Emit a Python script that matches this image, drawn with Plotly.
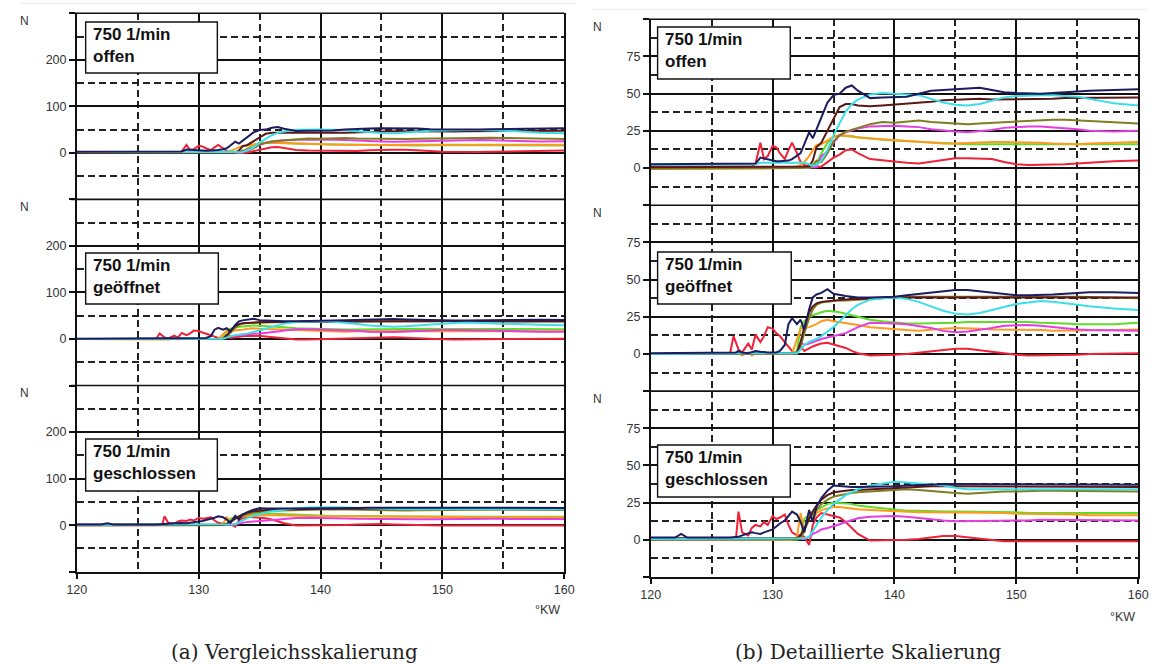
import plotly.graph_objects as go

W, H = 1157, 664

# ---------------- data ----------------
X = [120, 122, 122.5, 123, 126.5, 126.8, 127, 127.2, 127.5, 128,
     128.3, 128.6, 129, 129.3, 129.6, 130, 130.3, 130.6, 131, 131.3,
     131.6, 132, 132.3, 132.6, 133, 133.3, 133.6, 134, 134.5, 135,
     135.5, 136, 136.5, 137, 138, 139, 140, 141, 142, 143,
     144, 145, 146, 147, 148, 149, 150, 151, 152, 153,
     154, 155, 156, 158, 160]

# condition "offen"
navy_o = [2.5,2.5,2.5,2.5,2.5,2.5,2.5,2.5,2.5,2.5, 2.5,3,7,6.5,5.5,5,4.5,4.5,5,5,
          6,8,10,16,24,20,26,35,44,49, 50,54,55.5,52,47,47.5,47.5,48,50,52,
          52.5,53,53,54,52.5,51,50.5,50,50,50.5, 51,51.5,52,52.5,53]
brown_o = [0.5,0.5,0.5,0.5,0.5,0.5,0.5,0.5,0.5,0.5, 0.5,0.5,0.5,0.5,0.5,0.5,0.5,0.5,0.5,0.5,
           0.5,0.5,0.5,0.8,1,5,14,17,25,33, 41,43,43,42,41.5,42,42.5,43,43.5,44.5,
           45.5,46,46.5,46.5,46,46,46,46,46.5,46.5, 47,47,47.5,47.5,47.5]
cyan_o = [2,2,2,2,2,2,2,2,2,2, 2,2.5,3.5,3.5,3.5,3.5,3.5,3.5,3.5,3.5,
          3.5,3.5,3.5,3.5,2.5,1.5,2,5,12,22, 30,38,43,46,49.5,50.5,50,49.5,49,46.5,
          44,42.5,42,43,45.5,47.5,48.5,49,49,49, 48.5,48,46.5,43.5,42]
olive_o = [-0.5,-0.5,-0.5,-0.5,-0.5,-0.5,-0.5,-0.5,-0.5,-0.5, -0.5,-0.5,-0.5,-0.5,-0.5,-0.5,-0.5,-0.5,-0.5,-0.5,
           -0.3,0,0,0.3,0.5,2,5,4,10,18, 22,24.5,26,27,29.5,31,30.5,31.5,32,31,
           30.5,30,29.5,30,30.5,31,31.5,32,32,32.5, 32.5,32,31.5,30.5,30]
magenta_o = [0,0,0,0,0,0,0,0,0,0, 0,0,0,0,0,0,0,0,0,0,
             0,0,0,0,0,0,0.5,8,11,17, 22,24,25.5,26.5,28,28.5,28.5,28,27.5,26,
             25,24.5,24,24.5,25.5,27,27.5,28,28,27.5, 27,26,25,24.5,25]
orange_o = [-0.5,-0.5,-0.5,-0.5,-0.5,-0.5,-0.5,-0.5,-0.5,-0.5, -0.5,-0.5,-0.5,-0.5,-0.5,-0.5,-0.5,-0.5,-0.5,-0.3,
            0,1,2,4,8,12,15.5,16,18.5,21, 22,22,21.5,20.5,20,19,18.5,18,17.5,17,
            16.5,16.5,17,17.5,17.5,17.5,17.5,17,17,16.5, 16,16,16.5,17,17.5]
green_o = [0,0,0,0,0,0,0,0,0,0, 0,0,0,0,0,0,0,0,0,0,
           0,0,0,0,0,1,3,10,17,21, 22,21.5,21,20.5,20,19,18.5,18,17.5,17,
           16.5,16,16,16,16,16.5,16.5,16.5,16,16, 16,16,16,16,16]
red_o = [1,1,1,1,1,1,1,1,1,1, 1,3,17,6,8,15,14,10,6,12,
         17,10,4,2,1,0.5,0.5,1,4,7, 9,12,12.5,10,6,5,4.5,3.5,3,4,
         5.5,6.5,6.5,6.5,6,4,2.5,2,2,2, 2.5,3,3.5,4.5,5]

# condition "geöffnet"
navy_g = [0.5,0.5,0.5,0.5,0.5,0.5,1,2,1,0.5, 1,2,1.5,1,1,1,1,2,6,20,
          24,20,23,16,30,38,40,41,43.5,40.5, 39.5,39,38.5,38,38,38,38.5,39.5,40.5,41.5,
          42.5,43,43,42,41,40,39.5,39.5,39.5,40, 40.5,41,41.5,41.5,41]
brown_g = [0,0,0,0,0,0,0,0,0,0, 0,0,0,0,0,0,0,0,0,0,
           0,0.5,8,18,28,32,34,35,35.5,36, 36.5,36.5,37,37,37.5,37.5,38,38,38,38,
           38,38,38,38,38,38,38.5,38.5,38.5,38.5, 38.5,38.5,38.5,38.5,38]
olive_g = [0,0,0,0,0,0,0,0,0,0, 0,0,0,0,0,0,0,0,0,0,
           0,0.3,5,14,24,30,33,34.5,35,35.5, 36,36,36.3,36.5,37,37.5,38,38.5,38.5,38.5,
           38.5,38.5,38.5,38.5,38.5,38.5,39,39,39,38.8, 38.6,38.5,38.2,38,37.5]
cyan_g = [0,0,0,0,0,0,0,0,0,0, 0,0,0,0,0,0,0,0,0,0,
          0,0.5,3,6,8,9,10,12,15,18, 22,26,30,33,36.5,37.5,38,37,35,32,
          29,27,26.5,27.5,29.5,31.5,33.5,34.5,35.5,35, 34,33,32,30.5,29.5]
green_g = [0,0,0,0,0,0,0,0,0,0, 0,0,0,0,0,0,0,0,0,0,
           0,2,18,22,25,26,27,28,29,28.5, 28,27,26,25,23,22,21,20.5,20.5,20.5,
           21,21,21.5,21.5,22,22,21.5,21.5,21,21, 20.5,20,20,20,21]
orange_g = [0,0,0,0,0,0,0,0.5,-1,1, -1,0.5,0,0,0,0,0,0,0,0,
            0,10,17,17.5,18,19,20,22,23,22, 21.5,21,20,19.5,18,17.5,17,16,15.5,16.5,
            17,17.5,17,17,16.5,16.5,16,16,16,15.5, 15.5,16,16,16,16.5]
magenta_g = [0,0,0,0,0,0,0,0,0,0, 0,0,0,0,0,0,0,0,0,0,
             0,0.5,8,6,7,8,9,10,11,12, 13,14,16,18,21,21,20.5,20,19,17.5,
             15.5,14.5,15,16,17.5,19,19.5,19.5,19,18, 17,16.5,16,15.5,15.5]
red_g = [0,0,0,0,0,12,8,3,1,7, 3,13,8,12,18,17,14,12,8,5,
         2,0,5,2,4,5,6,7,7.5,6.5, 5.5,4,2,0.5,-1,-1,-0.5,0,1,2,
         3,3.5,3.5,2.5,1,0,-0.5,-1,-1,-0.5, -0.5,-0.5,0,0.5,0.5]

# condition "geschlossen"
navy_s = [1.5,1.5,4,1.5,1.5,1.5,1.5,2,3,4, 5,4.5,4,5,6,7,9,11,13,16,
          19,17,12,5,20,12,22,28,33,36.5, 36,35.5,35.5,35.5,35.5,35.5,36,36.5,37,37,
          37.5,37.5,37.5,37.5,37,37,37,37,37,37, 37,37,37,37,37]
brown_s = [1,1,1,1,1,1,1,1,1,1, 1,1,1,1,1,1,1,1,1,1,
           1,1,3,8,15,19,23,27,30,32, 32.5,33,33.5,33.5,34,34.5,35,35.5,36,36,
           36,36,36,36,36,36,36,36,36,36, 36,36,36,35.8,35.5]
cyan_s = [0.5,0.5,0.5,0.5,0.5,0.5,0.5,0.5,0.5,0.5, 0.5,0.5,0.5,0.5,0.5,0.5,0.5,0.5,0.5,0.5,
          0.5,0.5,0.5,1,2,6,10,15,20,24, 27,30,32,34,36.5,38,39,38.5,38,37,
          36.5,35,34,34,34,34.5,34.5,34.5,34.5,34.5, 34.5,34.5,34.5,34,34]
olive_s = [0,0,0,0,0,0,0,0,0,0, 0,0,0,0,0,0,0,0,0,0,
           0,0,0.5,6,14,17,20,24,27,29, 30,31,31.5,32,32.5,33,33.5,34,33.5,33,
           32,31.5,31,31.5,32,32.5,32.5,33,33,33, 33,33,33,32.5,32.5]
green_s = [0,0,0,0,0,0,0,0,0,0, 0,0,0,0,0,0,0,0,0,0,
           0,0,1,14,17,19,20,22,24,25, 25,24.5,24,23,22,21,20,19.5,19.5,19,
           19,19,19,18.5,18.5,18.5,18.5,18,18,18, 18,18,18,18,18]
orange_s = [0,0,0,0,0,0,0,0,0,0, 0,0,0,0,0,0,0,0,0,0,
            0,2,18,5,19,13,18,20,21,22, 22,21.5,21,20.5,20,19.5,19,19,18.5,18.5,
            18.5,18.5,18.5,18,18,18,17.5,17.5,17,17, 17,17,16.5,16.5,16.5]
magenta_s = [0,0,0,0,0,0,0,0,0,0, 0,0,0,0,0,0,0,0,0,0,
             0,0,0,0.5,2,4,5,7,8,9, 10.5,12,13.5,14.5,15.5,16,16,15.5,14.5,13.5,
             13,12.5,12.5,12.5,12.5,12.5,13,13,13.5,13.5, 13.5,13.5,13.5,13,13]
red_s = [1,1,1,1,1,1,1,19,5,3, 8,10,9,12,10,16,14,15,17,10,
         5,3,3,2,-3.5,10,15,18,17,16, 15,12,8,4,-0.5,-0.5,-0.5,0,0.5,1.5,
         2.5,2.5,1.5,0.5,-0.5,-1,-1,-1,-1,-0.5, -0.5,-0.5,-0.5,-0.5,-1]

CONDITIONS = ["offen", "geöffnet", "geschlossen"]
SERIES = ["red", "green", "orange", "magenta", "olive", "brown", "cyan", "navy"]
COLORS = {"navy": "#1c1c5e", "brown": "#5a1818", "cyan": "#3ddfe6", "olive": "#7f7f22",
          "magenta": "#e43ee0", "orange": "#ff9a1e", "green": "#5fdc2a", "red": "#ee2238"}
PANELS = {
    "offen": {"navy": navy_o, "brown": brown_o, "cyan": cyan_o, "olive": olive_o,
              "magenta": magenta_o, "orange": orange_o, "green": green_o, "red": red_o},
    "geöffnet": {"navy": navy_g, "brown": brown_g, "cyan": cyan_g, "olive": olive_g,
                 "magenta": magenta_g, "orange": orange_g, "green": green_g, "red": red_g},
    "geschlossen": {"navy": navy_s, "brown": brown_s, "cyan": cyan_s, "olive": olive_s,
                    "magenta": magenta_s, "orange": orange_s, "green": green_s, "red": red_s},
}

X_TICKS = [120, 130, 140, 150, 160]
Y_LEFT_TICKS = [-100, 0, 100, 200, 300]
Y_LEFT_TEXT = ["", "0", "100", "200", ""]
Y_RIGHT_TICKS = [-25, 0, 25, 50, 75, 100]
Y_RIGHT_TEXT = ["", "0", "25", "50", "75", ""]
CAPTIONS = ["(a) Vergleichsskalierung", "(b) Detaillierte Skalierung"]

# ---------------- layout geometry (pixels) ----------------
def fx(p):
    return p / W

def fy(p):
    return 1 - p / H

COL_X = [(68, 564), (652, 1148)]
ROWS = [[(13.3, 199.4), (199.4, 385.5), (385.5, 571.7)],
        [(19.3, 205.2), (205.2, 391.1), (391.1, 577.0)]]
BOXES = [[(77, 22, 211, 73), (77, 253, 212, 304), (77, 439, 211, 491)],
         [(659, 27, 794, 79), (659, 252, 795, 304), (659, 445, 794, 497)]]

SANS = "Liberation Sans, Arial, sans-serif"
GRID = "#111111"
DASH = "#222222"

fig = go.Figure()
layout = dict(width=W, height=H, margin=dict(l=0, r=0, t=0, b=0),
              paper_bgcolor="white", plot_bgcolor="rgba(0,0,0,0)", showlegend=False)
annotations = []
shapes = []

for c in range(2):
    # horizontal frame lines: top edge and panel boundaries
    for yy in [ROWS[c][0][0], ROWS[c][0][1], ROWS[c][1][1]]:
        shapes.append(dict(type="line", xref="paper", yref="paper",
                           x0=fx(COL_X[c][0] - 6), x1=fx(COL_X[c][1]),
                           y0=fy(yy), y1=fy(yy), line=dict(color=GRID, width=1.6),
                           layer="above"))
    for r, cond in enumerate(CONDITIONS):
        idx = r * 2 + c + 1
        xname = "x" if idx == 1 else f"x{idx}"
        yname = "y" if idx == 1 else f"y{idx}"
        for s in SERIES:
            fig.add_trace(go.Scatter(x=X, y=PANELS[cond][s], mode="lines",
                                     line=dict(color=COLORS[s], width=2),
                                     xaxis=xname, yaxis=yname, hoverinfo="skip"))
        bottom = (r == 2)
        y0, y1 = ROWS[c][r]
        layout["xaxis" if idx == 1 else f"xaxis{idx}"] = dict(
            domain=[fx(COL_X[c][0]), fx(COL_X[c][1])], range=[120, 160],
            anchor=yname, tickmode="array", tickvals=X_TICKS,
            showticklabels=bottom, ticks="outside" if bottom else "", ticklen=5,
            tickcolor=GRID, tickwidth=1.5,
            tickfont=dict(family=SANS, size=12.5, color="#333"),
            showgrid=True, gridcolor=GRID, gridwidth=1.6, zeroline=False,
            showline=bottom, mirror=False, linecolor=GRID, linewidth=1.6,
            minor=dict(tickmode="linear", tick0=120, dtick=5, showgrid=True,
                       gridcolor=DASH, gridwidth=1.5, griddash="7px,4px", ticks=""),
            fixedrange=True)
        if c == 0:
            yr, tv, tt, mdt = [-100, 300], Y_LEFT_TICKS, Y_LEFT_TEXT, 50
        else:
            yr, tv, tt, mdt = [-25, 100], Y_RIGHT_TICKS, Y_RIGHT_TEXT, 12.5
        layout["yaxis" if idx == 1 else f"yaxis{idx}"] = dict(
            domain=[fy(y1), fy(y0)], range=yr, anchor=xname,
            tickmode="array", tickvals=tv, ticktext=tt,
            ticks="outside", ticklen=6, tickcolor=GRID, tickwidth=1.5,
            tickfont=dict(family=SANS, size=12.5, color="#333"),
            showgrid=True, gridcolor=GRID, gridwidth=1.6, zeroline=False,
            showline=True, mirror=True, linecolor=GRID, linewidth=1.6,
            minor=dict(tickmode="linear", tick0=0, dtick=mdt, showgrid=True,
                       gridcolor=DASH, gridwidth=1.5, griddash="7px,4px", ticks=""),
            fixedrange=True)
        # "N" unit label
        nx = 15 if c == 0 else 598
        annotations.append(dict(xref="paper", yref="paper", x=fx(nx), y=fy(y0 + 7.5),
                                xanchor="center", yanchor="middle", showarrow=False,
                                text="N", font=dict(family=SANS, size=12, color="#333")))
        # label box
        bx0, by0, bx1, by1 = BOXES[c][r]
        shapes.append(dict(type="rect", xref="paper", yref="paper",
                           x0=fx(bx0), x1=fx(bx1), y0=fy(by1), y1=fy(by0),
                           fillcolor="white", line=dict(color=GRID, width=1.4),
                           layer="above"))
        annotations.append(dict(xref="paper", yref="paper", x=fx(bx0 + 5), y=fy(by0 + 1),
                                xanchor="left", yanchor="top", showarrow=False, align="left",
                                text="<b>750 1/min<br>" + cond + "</b>",
                                font=dict(family=SANS, size=17, color="#111")))

# axis unit labels
annotations.append(dict(xref="paper", yref="paper", x=fx(547), y=fy(610), xanchor="center",
                        yanchor="middle", showarrow=False, text="°KW",
                        font=dict(family=SANS, size=12.5, color="#333")))
annotations.append(dict(xref="paper", yref="paper", x=fx(1132), y=fy(617), xanchor="center",
                        yanchor="middle", showarrow=False, text="°KW",
                        font=dict(family=SANS, size=12.5, color="#333")))
# captions
annotations.append(dict(xref="paper", yref="paper", x=fx(290), y=fy(652), xanchor="center",
                        yanchor="middle", showarrow=False, text=CAPTIONS[0],
                        font=dict(family="DejaVu Serif, serif", size=20, color="#222")))
annotations.append(dict(xref="paper", yref="paper", x=fx(874), y=fy(652), xanchor="center",
                        yanchor="middle", showarrow=False, text=CAPTIONS[1],
                        font=dict(family="DejaVu Serif, serif", size=20, color="#222")))

# faint top rules
shapes.append(dict(type="line", xref="paper", yref="paper", x0=fx(10), x1=fx(576),
                   y0=fy(3.3), y1=fy(3.3), line=dict(color="#ececec", width=1)))
shapes.append(dict(type="line", xref="paper", yref="paper", x0=fx(593), x1=1,
                   y0=fy(9.3), y1=fy(9.3), line=dict(color="#ececec", width=1)))

layout["annotations"] = annotations
layout["shapes"] = shapes
fig.update_layout(**layout)
fig.write_html("out.html")
